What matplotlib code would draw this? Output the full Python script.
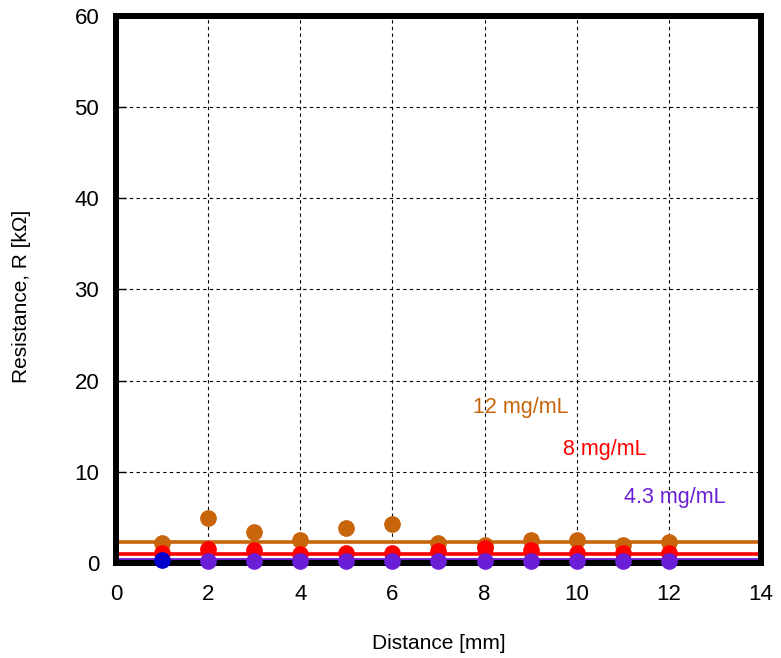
import matplotlib.pyplot as plt

plt.rcParams['font.family'] = ['Liberation Sans', 'DejaVu Sans']

# 電極間距離ごとの抵抗値 [kΩ]
distance = [1, 2, 3, 4, 5, 6, 7, 8, 9, 10, 11, 12]
r_12 = [2.2, 4.9, 3.4, 2.5, 3.8, 4.3, 2.2, 2.0, 2.5, 2.5, 2.0, 2.3]
r_8 = [1.1, 1.5, 1.4, 1.0, 1.1, 1.1, 1.3, 1.6, 1.4, 1.1, 1.1, 1.1]
r_43 = [0.27, 0.27, 0.27, 0.27, 0.27, 0.27, 0.27, 0.27, 0.27, 0.27, 0.27]
dist_43 = [2, 3, 4, 5, 6, 7, 8, 9, 10, 11, 12]
blue_x = [1]
blue_r = [0.3]

# 平均値
mean_12 = 2.3
mean_8 = 1.0
mean_43 = 0.4

c_orange = '#C8640A'
c_red = '#FF0000'
c_purple = '#6A1ED6'
c_blue = '#0000CC'

fig = plt.figure(figsize=(7.81, 6.58), dpi=100)
ax = fig.add_axes([0.1485, 0.1444, 0.8259, 0.8313])

ax.axhline(mean_12, color=c_orange, lw=2.6, zorder=2)
ax.plot(distance, r_12, 'o', color=c_orange, ms=11, zorder=3)
ax.axhline(mean_8, color=c_red, lw=2.6, zorder=4)
ax.plot(distance, r_8, 'o', color=c_red, ms=11, zorder=5)
ax.axhline(mean_43, color=c_purple, lw=2.0, zorder=6)
ax.plot(dist_43, r_43, 'o', color=c_purple, ms=11, zorder=10, clip_on=False)
ax.plot(blue_x, blue_r, 'o', color=c_blue, ms=11, zorder=10, clip_on=False)

ax.text(7.75, 17.1, '12 mg/mL', color=c_orange, fontsize=15.5, va='center')
ax.text(9.7, 12.4, '8 mg/mL', color=c_red, fontsize=15.5, va='center')
ax.text(11.03, 7.2, '4.3 mg/mL', color=c_purple, fontsize=15.5, va='center')

ax.set_xlim(0, 14)
ax.set_ylim(0, 60)
ax.set_xticks(range(0, 15, 2))
ax.set_yticks(range(0, 61, 10))
ax.grid(True, color='black', linestyle=(0, (3, 3)), linewidth=0.8)
ax.set_axisbelow(True)

for s in ax.spines.values():
    s.set_linewidth(4.3)
    s.set_zorder(8)

ax.tick_params(direction='in', length=7, width=1, labelsize=16,
               top=False, right=False)
ax.tick_params(axis='x', pad=15)
ax.tick_params(axis='y', pad=12)
ax.set_xlabel('Distance [mm]', fontsize=15, va='center')
ax.set_ylabel('Resistance, R [kΩ]', fontsize=15, va='center')
ax.xaxis.set_label_coords(0.5, -0.148)
ax.yaxis.set_label_coords(-0.1457, 0.487)

plt.savefig('out.png', dpi=100)
